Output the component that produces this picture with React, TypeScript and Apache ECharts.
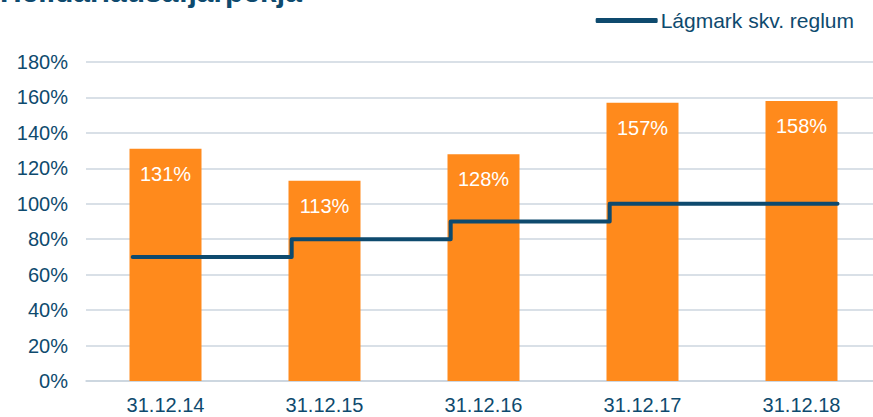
import React, { useEffect, useRef } from "react";
import * as echarts from "echarts";

const categories = ["31.12.14", "31.12.15", "31.12.16", "31.12.17", "31.12.18"];
const ratioValues = [131, 113, 128, 157, 158];
const minRequirement = [70, 80, 90, 100, 100];
const yTicks = [0, 20, 40, 60, 80, 100, 120, 140, 160, 180];
const titleText = "Heildarlausafjárþekja";
const legendText = "Lágmark skv. reglum";

const NAVY = "#0e4a6e";
const ORANGE = "#ff8a1c";
const GRID_W = 795;
const BAR_W = 72;
const FONT = "Liberation Sans, Arial, sans-serif";

export default function App() {
  const ref = useRef<HTMLDivElement>(null);
  useEffect(() => {
    if (!ref.current) return;
    const chart = echarts.init(ref.current, undefined, { renderer: "svg" });
    const n = categories.length;
    const half = BAR_W / 2 / (GRID_W / n);
    const stepPts: [number, number][] = minRequirement.map((v, i) => [i + 0.5 - half + 0.02, v]);
    stepPts.push([n - 0.5 + half, minRequirement[n - 1]]);
    chart.setOption({
      animation: false,
      textStyle: { fontFamily: FONT },
      grid: { left: 86, top: 62, width: GRID_W, height: 319, outerBoundsMode: "none" },
      legend: {
        top: 5,
        right: 14,
        itemWidth: 62,
        itemHeight: 5,
        itemGap: 4,
        icon: "roundRect",
        textStyle: { color: NAVY, fontSize: 21, fontFamily: FONT, padding: [0, 0, 0, -2] },
        data: [{ name: legendText, icon: "roundRect", itemStyle: { color: NAVY } }],
      },
      graphic: [
        {
          type: "text",
          left: 0,
          top: -24,
          style: {
            text: titleText,
            fill: NAVY,
            font: "bold 30px " + FONT,
          },
        },
      ],
      xAxis: [
        {
          type: "category",
          data: categories,
          axisLine: { lineStyle: { color: "#c9d3de", width: 1.5 } },
          axisTick: { show: false },
          axisLabel: { color: NAVY, fontSize: 20, margin: 14 },
        },
        { type: "value", min: 0, max: n, show: false },
      ],
      yAxis: {
        type: "value",
        min: yTicks[0],
        max: yTicks[yTicks.length - 1],
        interval: 20,
        axisLabel: { formatter: "{value}%", color: NAVY, fontSize: 20, margin: 18 },
        axisLine: { show: false },
        axisTick: { show: false },
        splitLine: { lineStyle: { color: "#cdd6df", width: 1.5 } },
      },
      series: [
        {
          type: "bar",
          data: ratioValues,
          barWidth: BAR_W,
          itemStyle: { color: ORANGE },
          label: {
            show: true,
            position: "insideTop",
            distance: 15,
            formatter: "{c}%",
            color: "#ffffff",
            fontSize: 20,
          },
        },
        {
          name: legendText,
          type: "line",
          xAxisIndex: 1,
          step: "end",
          data: stepPts,
          symbol: "none",
          lineStyle: { color: NAVY, width: 4, cap: "round", join: "round" },
          itemStyle: { color: NAVY },
        },
      ],
    });
    return () => chart.dispose();
  }, []);
  return <div ref={ref} style={{ width: 873, height: 417, position: "absolute", left: 0, top: 0 }} />;
}
